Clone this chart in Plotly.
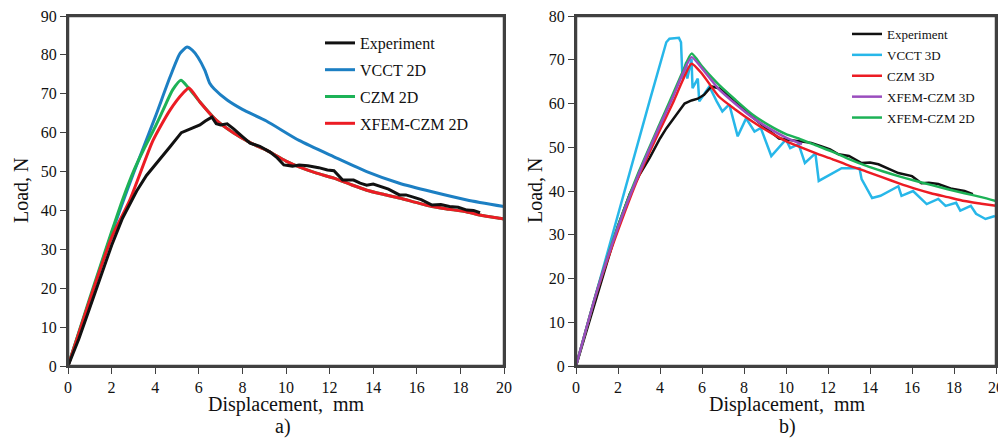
import plotly.graph_objects as go

# ---------------- Panel a) ----------------
exp_a_x = [0, 0.5, 1, 1.5, 2, 2.5, 3.15, 3.6, 4.2, 4.7, 5.2, 5.6, 6.05, 6.3, 6.6, 6.8, 7.0, 7.3, 7.6, 8.0,
           8.35, 8.8, 9.27, 9.6, 9.9, 10.3, 10.6, 11.0, 11.5, 11.9, 12.2, 12.6, 13.1, 13.4, 13.7, 14.0,
           14.3, 14.7, 15.2, 15.5, 15.8, 16.2, 16.7, 17.1, 17.5, 17.9, 18.3, 18.6, 18.9]
exp_a_y = [0, 7, 15, 23, 31, 38, 45, 49, 53, 56.5, 60, 61, 62, 63, 64, 62.3, 62, 62.3, 61, 59,
           57.3, 56.5, 55, 53.5, 51.7, 51.4, 51.7, 51.5, 51, 50.4, 50.2, 47.8, 47.8, 47, 46.5, 46.8,
           46.3, 45.5, 44, 44, 43.5, 42.8, 41.4, 41.5, 41, 40.8, 40.1, 40, 39.4]

vcct2d_x = [0, 1, 2, 3, 4, 4.68, 5.14, 5.46, 5.7, 5.96, 6.28, 6.5, 6.7, 7.3, 8, 9.1, 10.6, 12.2, 13.7,
            15.2, 16.7, 18.3, 20]
vcct2d_y = [0, 17, 34, 49.5, 64, 74.3, 80.4, 82, 81.2, 79.4, 76, 72.7, 71.3, 68.4, 66, 63, 58, 53.8, 50,
            47, 44.8, 42.7, 41]

czm2d_x = [0, 1, 2, 2.5, 3, 3.5, 4, 4.36, 4.8, 5.18, 5.5, 6.05, 6.8, 7.6, 8.4, 9.1, 10, 10.6, 11.4,
           12.2, 13, 13.7, 14.5, 15.2, 16, 16.7, 17.5, 18.3, 19, 19.8, 20]
czm2d_y = [0, 17.5, 34.5, 42.7, 50, 56, 61.5, 65.8, 71, 73.5, 71.7, 67.9, 63.2, 59.9, 57.3, 55.5, 52.7,
           51.2, 49.6, 48.3, 46.6, 45.2, 44.1, 43.2, 42, 41, 40.3, 39.6, 38.7, 38, 37.8]

xfem2d_x = [0, 1, 2, 2.84, 3.9, 4.68, 5.28, 5.55, 6.05, 6.8, 7.6, 8.4, 9.1, 10, 10.6, 11.4, 12.2, 13,
            13.7, 14.5, 15.2, 16, 16.7, 17.5, 18.3, 19, 19.8, 20]
xfem2d_y = [0, 17, 33, 42.7, 58, 65.8, 70.2, 71.5, 67.9, 63.2, 59.9, 57.3, 55.5, 52.7, 51.2, 49.6, 48.3,
            46.6, 45.2, 44.1, 43.2, 42, 41, 40.3, 39.6, 38.7, 38, 37.8]

# ---------------- Panel b) ----------------
exp_b_x = [0, 0.5, 1, 1.5, 2, 2.56, 3, 3.5, 4, 4.3, 4.8, 5.17, 5.5, 5.8, 6.1, 6.45, 6.8, 7.15, 7.6, 8,
           8.5, 9, 9.67, 10.1, 10.6, 11.2, 11.7, 12.1, 12.5, 13, 13.6, 14, 14.4, 14.9, 15.35, 16, 16.45,
           16.8, 17.25, 17.9, 18.5, 18.9]
exp_b_y = [0, 8, 16.5, 24.5, 32, 39.3, 43.5, 47.5, 52, 54.3, 57.5, 60, 60.7, 61.1, 62, 63.9, 63.5, 62.3,
           60.5, 58.5, 56.5, 54.5, 52, 51.7, 51.4, 51, 50.2, 49.5, 48.4, 48, 46.4, 46.5, 46.1, 45, 44.1,
           43.4, 41.8, 41.9, 41.6, 40.5, 40, 39.3]

vcct3d_x = [0, 1.28, 2.5, 3.5, 4.3, 4.45, 4.9, 5.0, 5.07, 5.25, 5.3, 5.5, 5.55, 5.8, 5.87, 6.35, 6.7,
            6.97, 7.3, 7.7, 8.1, 8.5, 8.8, 9.3, 10.0, 10.2, 10.6, 10.9, 11.4, 11.56, 12.65, 13.5, 13.6,
            14.1, 14.5, 15.35, 15.5, 16.05, 16.7, 17.25, 17.6, 18.1, 18.3, 18.8, 19.05, 19.5, 19.95]
vcct3d_y = [0, 22.3, 43, 60.5, 74, 74.8, 75, 74, 65.7, 69.5, 65.7, 70.2, 63.5, 65.7, 60.5, 63.9, 60.5,
            58.2, 59.8, 52.5, 56.6, 53.6, 54.4, 48, 51.8, 49.8, 50.7, 46.4, 48.6, 42.3, 45.2, 45.2, 42.7,
            38.4, 38.9, 41.1, 38.9, 40, 37, 38.2, 36.6, 37.3, 35.5, 36.6, 34.8, 33.6, 34.3]

czm3d_x = [0, 1, 2, 3, 4, 4.6, 5.1, 5.5, 6, 6.8, 7.6, 8.4, 9.2, 10, 10.6, 11.5, 12.2, 13, 13.8, 14.6,
           15.35, 16.1, 16.9, 17.7, 18.5, 19.3, 20]
czm3d_y = [0, 17, 31, 43.5, 54, 60, 65.5, 69.1, 66.8, 61.6, 58.6, 55.9, 53.5, 51.4, 50.2, 48.5, 47.3,
           45.8, 44.5, 43.1, 41.8, 40.6, 39.5, 38.6, 37.7, 37.1, 36.6]

xfem3d_x = [0, 1, 2, 3, 4, 4.6, 5.1, 5.5, 6, 6.8, 7.6, 8.4, 9.2, 10, 10.76]
xfem3d_y = [0, 17.2, 31.7, 44, 55, 61.3, 67, 70.6, 68, 63.3, 59.9, 56.8, 54.3, 52.2, 50.7]

xfem2d_b_x = [0, 1, 2, 3, 4, 4.6, 5.1, 5.5, 6, 6.4, 6.8, 7.6, 8.4, 9.2, 10, 10.6, 11.5, 12.2, 13, 13.8,
              14.6, 15.35, 16.1, 16.9, 17.7, 18.5, 19.3, 20]
xfem2d_b_y = [0, 17.3, 32, 44.5, 55.5, 62, 67.5, 71.4, 68.5, 66.3, 64.3, 60.8, 57.5, 55, 53, 52, 50.3,
              49, 47.3, 45.8, 44.5, 43.4, 42.4, 41.4, 40.4, 39.5, 38.6, 37.7]

x_ticks = list(range(0, 21, 2))
y_ticks_a = list(range(0, 91, 10))
y_ticks_b = list(range(0, 81, 10))

BLACK = "#111111"
BLUE = "#1C7FC3"
GREEN = "#1DB257"
RED = "#EC1C24"
LBLUE = "#27B7E9"
PURPLE = "#9A4DBE"
FRAME = "#404040"
FONT = "Liberation Serif"

fig = go.Figure()


def add(x, y, name, color, xa, ya, legend, rank, shape="spline", width=3):
    fig.add_trace(go.Scatter(
        x=x, y=y, name=name, mode="lines", xaxis=xa, yaxis=ya, legend=legend,
        legendrank=rank, legendgroup=name + legend,
        line=dict(color=color, width=width, shape=shape, smoothing=0.6 if shape == "spline" else None),
    ))


# panel a
add(vcct2d_x, vcct2d_y, "VCCT 2D", BLUE, "x", "y", "legend", 2)
add(czm2d_x, czm2d_y, "CZM 2D", GREEN, "x", "y", "legend", 3)
add(xfem2d_x, xfem2d_y, "XFEM-CZM 2D", RED, "x", "y", "legend", 4)
add(exp_a_x, exp_a_y, "Experiment", BLACK, "x", "y", "legend", 1, shape="linear")

# panel b
add(vcct3d_x, vcct3d_y, "VCCT 3D", LBLUE, "x2", "y2", "legend2", 2, shape="linear", width=2.5)
add(exp_b_x, exp_b_y, "Experiment", BLACK, "x2", "y2", "legend2", 1, shape="linear", width=2.5)
add(czm3d_x, czm3d_y, "CZM 3D", RED, "x2", "y2", "legend2", 3, width=2.5)
add(xfem2d_b_x, xfem2d_b_y, "XFEM-CZM 2D", GREEN, "x2", "y2", "legend2", 5, width=2.5)
add(xfem3d_x, xfem3d_y, "XFEM-CZM 3D", PURPLE, "x2", "y2", "legend2", 4, width=2.5)

# The page body has an 8px default margin; the figure starts at (8, 8) in the window.
OFF = 8
W, H = 1006, 441


def fx(px):
    return (px - OFF) / W


def fy(py):
    return 1 - (py - OFF) / H


axis_common = dict(
    showline=True, linecolor=FRAME, linewidth=2, mirror=True,
    ticks="outside", ticklen=6, tickwidth=1.3, tickcolor=FRAME,
    showgrid=False, zeroline=False, automargin=False, ticklabeloverflow="allow",
    tickfont=dict(family=FONT, size=16, color="#111111"),
)

A_L, A_R, A_T = 68, 504, 16
B_L, B_R, B_T = 576, 996, 16
BOT = 366

fig.update_layout(
    width=W, height=H,
    margin=dict(l=0, r=0, t=0, b=0, autoexpand=False),
    paper_bgcolor="white", plot_bgcolor="white",
    font=dict(family=FONT, color="#111111"),
    xaxis=dict(domain=[fx(A_L), fx(A_R)], range=[0, 20], tickvals=x_ticks, anchor="y", **axis_common),
    yaxis=dict(domain=[fy(BOT), fy(A_T)], range=[0, 90], tickvals=y_ticks_a, anchor="x", **axis_common),
    xaxis2=dict(domain=[fx(B_L), fx(B_R)], range=[0, 20], tickvals=x_ticks, anchor="y2", **axis_common),
    yaxis2=dict(domain=[fy(BOT), fy(B_T)], range=[0, 80], tickvals=y_ticks_b, anchor="x2", **axis_common),
    legend=dict(x=fx(320), y=fy(26), xanchor="left", yanchor="top", bgcolor="rgba(0,0,0,0)",
                font=dict(family=FONT, size=16, color="#111111"), tracegroupgap=3,
                itemwidth=30, borderwidth=0),
    legend2=dict(x=fx(847), y=fy(19), xanchor="left", yanchor="top", bgcolor="rgba(0,0,0,0)",
                 font=dict(family=FONT, size=13, color="#111111"), tracegroupgap=1,
                 itemwidth=30, borderwidth=0),
    showlegend=True,
)

# plot frames: one line shape per edge, in paper coordinates
for l, r, t in ((A_L, A_R, A_T), (B_L, B_R, B_T)):
    edges = [(l, BOT, r, BOT), (l, t, r, t), (l, BOT, l, t), (r, BOT, r, t)]
    for x0, y0, x1, y1 in edges:
        fig.add_shape(type="line", xref="paper", yref="paper", x0=fx(x0), x1=fx(x1), y0=fy(y0),
                      y1=fy(y1), line=dict(color=FRAME, width=2.5), layer="above")

ann = [
    dict(text="Displacement,  mm", x=fx(286), y=fy(404), size=20),
    dict(text="Displacement,  mm", x=fx(787), y=fy(404), size=20),
    dict(text="a)", x=fx(283), y=fy(426), size=20),
    dict(text="b)", x=fx(787), y=fy(426), size=20),
]
for a in ann:
    fig.add_annotation(text=a["text"], x=a["x"], y=a["y"], xref="paper", yref="paper",
                       showarrow=False, xanchor="center", yanchor="middle",
                       font=dict(family=FONT, size=a["size"], color="#111111"))
for xp in (21, 535):
    fig.add_annotation(text="Load, N", x=fx(xp), y=fy(190), xref="paper", yref="paper",
                       showarrow=False, textangle=-90, xanchor="center", yanchor="middle",
                       font=dict(family=FONT, size=20, color="#111111"))

fig.write_html("out.html", config={"displayModeBar": False})
